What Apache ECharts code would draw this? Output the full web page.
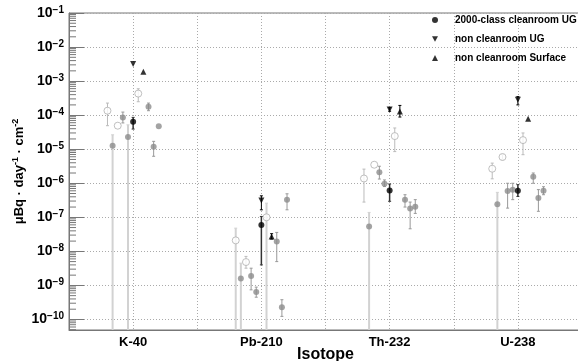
<!DOCTYPE html>
<html><head><meta charset="utf-8">
<script src="https://cdn.jsdelivr.net/npm/echarts@6/dist/echarts.min.js"></script>
<style>html,body{margin:0;padding:0;background:#fff;overflow:hidden}#c{width:578px;height:361px}</style>
</head><body><div id="c"></div>
<script>
// Categories on the x axis (placed at x = 1..4)
const isotopes = ['K-40', 'Pb-210', 'Th-232', 'U-238'];
// Axis range of the log y axis
const yRange = [4.9e-11, 0.1];
// rows: [isotopeIndex, slot, value, errLow, errHigh]
// errLow = 0 -> bar reaches down to the axis bottom ; null -> no error bar
const cleanroomUG = [
  [0, 0, 6.4e-5, 3.9e-5, 8.6e-5],
  [1, 0, 5.9e-8, 4.0e-9, 1.06e-7],
  [2, 0, 6.15e-7, 2.95e-7, 9.5e-7],
  [3, 0, 6.0e-7, 4.1e-7, 9.1e-7]
];
const nonCleanroomUG = [
  [0, 0, 3.2e-3, null, null],
  [1, 0, 3.1e-7, 1.66e-7, 4.27e-7],
  [2, 0, 1.47e-4, 1.3e-4, 1.65e-4],
  [3, 0, 2.83e-4, 2.0e-4, 3.5e-4]
];
const nonCleanroomSurface = [
  [0, 2, 1.88e-3, null, null],
  [1, 2, 2.74e-8, 2.3e-8, 3.3e-8],
  [2, 2, 1.29e-4, 8.8e-5, 1.93e-4],
  [3, 2, 7.8e-5, null, null]
];
const otherSamples = [
  [0, -4, 1.26e-5, 0, 2.65e-5],
  [0, -2, 8.6e-5, 5.9e-5, 1.23e-4],
  [0, -1, 2.28e-5, 0, 5.2e-5],
  [0, 3, 1.77e-4, 1.35e-4, 2.26e-4],
  [0, 4, 1.18e-5, 6.2e-6, 1.7e-5],
  [0, 5, 4.7e-5, null, null],
  [1, -4, 1.6e-9, 0, 4.5e-9],
  [1, -2, 1.88e-9, 7.4e-10, 3.2e-9],
  [1, -1, 6.4e-10, 4.5e-10, 8.9e-10],
  [1, 3, 1.95e-8, 5.0e-9, 3.6e-8],
  [1, 4, 2.3e-10, 1.23e-10, 3.8e-10],
  [1, 5, 3.27e-7, 1.66e-7, 4.9e-7],
  [2, -4, 5.4e-8, 0, 1.39e-7],
  [2, -2, 2.1e-6, 1.33e-6, 3.16e-6],
  [2, -1, 9.7e-7, 8.0e-7, 1.25e-6],
  [2, 3, 3.27e-7, 2.0e-7, 4.6e-7],
  [2, 4, 1.82e-7, 4.6e-8, 2.8e-7],
  [2, 5, 2.04e-7, 1.3e-7, 3.3e-7],
  [3, -4, 2.4e-7, 0, 5.4e-7],
  [3, -2, 5.9e-7, 1.86e-7, 1.0e-6],
  [3, -1, 6.4e-7, 3.3e-7, 1.0e-6],
  [3, 3, 1.55e-6, 1.0e-6, 2.0e-6],
  [3, 4, 3.67e-7, 1.5e-7, 6.5e-7],
  [3, 5, 6.0e-7, 4.6e-7, 7.9e-7]
];
const openSamples = [
  [0, -5, 1.35e-4, 4.9e-5, 2.26e-4],
  [0, -3, 4.9e-5, null, null],
  [0, 1, 4.3e-4, 2.48e-4, 5.96e-4],
  [1, -5, 2.1e-8, 0, 4.8e-8],
  [1, -3, 4.85e-9, 3.2e-9, 7.1e-9],
  [1, 1, 1.0e-7, 0, 2.6e-7],
  [2, -5, 1.38e-6, 2.8e-7, 2.6e-6],
  [2, -3, 3.5e-6, null, null],
  [2, 1, 2.43e-5, 8.5e-6, 4.2e-5],
  [3, -5, 2.67e-6, 1.35e-6, 3.9e-6],
  [3, -3, 5.9e-6, 4.9e-6, 7.0e-6],
  [3, 1, 1.85e-5, 6.9e-6, 3.0e-5]
];

const SLOT = 0.04;
const FONT = '"Liberation Sans", Arial, Helvetica, sans-serif';
const xOf = r => r[0] + 1 + r[1] * SLOT;
const toPoints = rows => rows.map(r => [xOf(r), r[2]]);
const toBars = rows => rows.filter(r => r[3] !== null).map(r => [xOf(r), r[2], r[3], r[4]]);

// log minor tick positions (2..9 x 10^n)
const minorTicks = [];
for (let n = -11; n <= -2; n++) for (let k = 2; k <= 9; k++) {
  const v = k * Math.pow(10, n);
  if (v > yRange[0] && v < yRange[1]) minorTicks.push([0.5, v]);
}

function errorSeries(rows, color, width, floorColor) {
  return {
    type: 'custom', silent: true, z: 2, data: toBars(rows), encode: { x: 0, y: 1 },
    renderItem(params, api) {
      const x = api.value(0), lo = api.value(2), hi = api.value(3);
      const toBottom = !(lo > 0);
      const pLo = api.coord([x, toBottom ? yRange[0] : lo]);
      const pHi = api.coord([x, hi]);
      const st = { stroke: toBottom ? floorColor : color, lineWidth: toBottom ? 2 : width };
      const ch = [{ type: 'line', shape: { x1: pLo[0], y1: pLo[1], x2: pHi[0], y2: pHi[1] }, style: st }];
      ch.push({ type: 'line', shape: { x1: pHi[0] - 1.5, y1: pHi[1], x2: pHi[0] + 1.5, y2: pHi[1] }, style: { stroke: st.stroke, lineWidth: 1 } });
      if (!toBottom) ch.push({ type: 'line', shape: { x1: pLo[0] - 1.5, y1: pLo[1], x2: pLo[0] + 1.5, y2: pLo[1] }, style: { stroke: st.stroke, lineWidth: 1 } });
      return { type: 'group', children: ch };
    }
  };
}

const chart = echarts.init(document.getElementById('c'));
chart.setOption({
  animation: false,
  backgroundColor: '#fff',
  textStyle: { fontFamily: FONT },
  grid: { left: 69, width: 513, top: 13, height: 317, show: true, borderColor: '#777', borderWidth: 1,
          containLabel: false, outerBoundsMode: 'none' },
  legend: {
    data: ['2000-class cleanroom UG', 'non cleanroom UG', 'non cleanroom Surface'],
    orient: 'vertical', left: 432, top: 14, padding: 0, itemWidth: 6, itemHeight: 6, itemGap: 7,
    selectedMode: false,
    textStyle: { fontSize: 10, fontWeight: 'bold', color: '#000', fontFamily: FONT, lineHeight: 12, padding: [0, 0, 0, 12] }
  },
  xAxis: {
    type: 'value', min: 0.5, max: 4.5, interval: 0.5,
    axisLine: { onZero: false, lineStyle: { color: '#777' } },
    axisTick: { show: false },
    splitLine: { show: true, lineStyle: { color: '#aaa', type: [1, 2] } },
    axisLabel: {
      margin: 6, fontSize: 13, fontWeight: 'bold', color: '#000', fontFamily: FONT,
      formatter: v => Math.abs(v - Math.round(v)) < 1e-6 && v >= 1 && v <= 4 ? isotopes[Math.round(v) - 1] : ''
    },
    name: 'Isotope', nameLocation: 'middle', nameGap: 17, nameMoveOverlap: false,
    nameTextStyle: { fontSize: 16, fontWeight: 'bold', color: '#000', fontFamily: FONT }
  },
  yAxis: {
    type: 'log', logBase: 10, min: yRange[0], max: yRange[1],
    axisLine: { show: true, lineStyle: { color: '#777' } },
    axisTick: { show: true, inside: true, length: 15, lineStyle: { color: '#777' } },
    splitLine: { show: true, lineStyle: { color: '#aaa', type: [1, 2] } },
    axisLabel: {
      margin: 5, color: '#000',
      formatter: v => {
        const l = Math.log10(v), e = Math.round(l);
        if (Math.abs(l - e) > 1e-6) return '';
        return '{b|10}{s|\u2212' + (-e) + '}';
      },
      rich: {
        b: { fontSize: 14, fontWeight: 'bold', color: '#000', fontFamily: FONT },
        s: { fontSize: 10, fontWeight: 'bold', color: '#000', fontFamily: FONT, padding: [0, 0, 6, 0] }
      }
    },
    name: '{t|\u03bcBq \u00b7 day}{s|-1}{t| \u00b7 cm}{s|-2}', nameLocation: 'middle', nameGap: 42, nameMoveOverlap: false,
    nameTextStyle: {
      rich: {
        t: { fontSize: 13, fontWeight: 'bold', color: '#000', fontFamily: FONT },
        s: { fontSize: 9, fontWeight: 'bold', color: '#000', fontFamily: FONT, padding: [0, 0, 7, 0] }
      }
    }
  },
  series: [
    {
      type: 'custom', silent: true, z: 1, data: minorTicks, encode: { x: 0, y: 1 },
      renderItem(params, api) {
        const p = api.coord([api.value(0), api.value(1)]);
        return { type: 'line', shape: { x1: p[0], y1: p[1], x2: p[0] + 7, y2: p[1] }, style: { stroke: '#777', lineWidth: 1 } };
      }
    },
    errorSeries(otherSamples, '#999', 1, '#d2d2d2'),
    errorSeries(openSamples, '#bbb', 1, '#d2d2d2'),
    errorSeries(cleanroomUG, '#333', 1.5, '#555'),
    errorSeries(nonCleanroomUG, '#000', 1, '#555'),
    errorSeries(nonCleanroomSurface, '#000', 1, '#555'),
    { name: 'other', type: 'scatter', z: 3, data: toPoints(otherSamples), symbol: 'circle', symbolSize: 6,
      itemStyle: { color: '#8c8c8c' }, emphasis: { disabled: true } },
    { name: 'open', type: 'scatter', z: 3, data: toPoints(openSamples), symbol: 'circle', symbolSize: 7,
      itemStyle: { color: '#fff', borderColor: '#b0b0b0', borderWidth: 1 }, emphasis: { disabled: true } },
    { name: '2000-class cleanroom UG', type: 'scatter', z: 4, data: toPoints(cleanroomUG), symbol: 'circle', symbolSize: 6,
      itemStyle: { color: '#000' }, emphasis: { disabled: true } },
    { name: 'non cleanroom UG', type: 'scatter', z: 4, data: toPoints(nonCleanroomUG), symbol: 'path://M0,0L10,0L5,9Z', symbolSize: [6, 6],
      itemStyle: { color: '#000' }, emphasis: { disabled: true } },
    { name: 'non cleanroom Surface', type: 'scatter', z: 4, data: toPoints(nonCleanroomSurface), symbol: 'triangle', symbolSize: [6, 6],
      itemStyle: { color: '#000' }, emphasis: { disabled: true } }
  ]
});
</script></body></html>
